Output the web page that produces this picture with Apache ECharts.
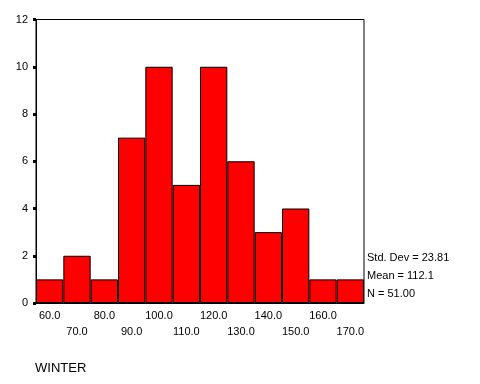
<!DOCTYPE html>
<html><head><meta charset="utf-8">
<script src="https://cdn.jsdelivr.net/npm/echarts@6/dist/echarts.min.js"></script>
<style>html,body{margin:0;padding:0;background:#fff}#c{width:480px;height:384px}</style>
</head><body><div id="c"></div>
<script>
const categories = ['60.0','70.0','80.0','90.0','100.0','110.0','120.0','130.0','140.0','150.0','160.0','170.0'];
const counts = [1,2,1,7,10,5,10,6,3,4,1,1];
const statsLines = ['Std. Dev = 23.81','Mean = 112.1','N = 51.00'];
const titleText = 'WINTER';
const FONT = '"Liberation Sans", Arial, sans-serif';
const chart = echarts.init(document.getElementById('c'), null, {renderer:'canvas'});
chart.setOption({
  animation:false,
  backgroundColor:'#fff',
  title:{text:titleText,left:35,top:362,padding:0,textStyle:{fontFamily:FONT,fontSize:13,fontWeight:'normal',color:'#000'}},
  grid:{left:36,top:19.5,right:116,bottom:81,show:true,borderColor:'#000',borderWidth:1,backgroundColor:'transparent'},
  xAxis:{type:'category',data:categories,boundaryGap:true,
    axisLine:{lineStyle:{color:'#000',width:1}},
    axisTick:{alignWithLabel:true,length:3,interval:0,lineStyle:{color:'#000',width:3}},
    axisLabel:{interval:0,margin:5,fontFamily:FONT,fontSize:11,color:'#000',lineHeight:16,
      formatter:(v,i)=> i%2===0 ? v : '\n'+v}
  },
  yAxis:{type:'value',min:0,max:12,interval:2,
    splitLine:{show:false},
    axisLine:{show:true,lineStyle:{color:'#000',width:1}},
    axisTick:{show:true,length:3,lineStyle:{color:'#000',width:3}},
    axisLabel:{margin:8,fontFamily:FONT,fontSize:11,color:'#000'}
  },
  series:[{type:'bar',data:counts,barCategoryGap:0,barWidth:'100%',
    itemStyle:{color:'#ff0000',borderColor:'#000',borderWidth:1}}],
  graphic: statsLines.map((t,i)=>({type:'text',left:367,top:252+i*18,
    style:{text:t,font:'11px '+FONT,fill:'#000'}}))
});
</script></body></html>
